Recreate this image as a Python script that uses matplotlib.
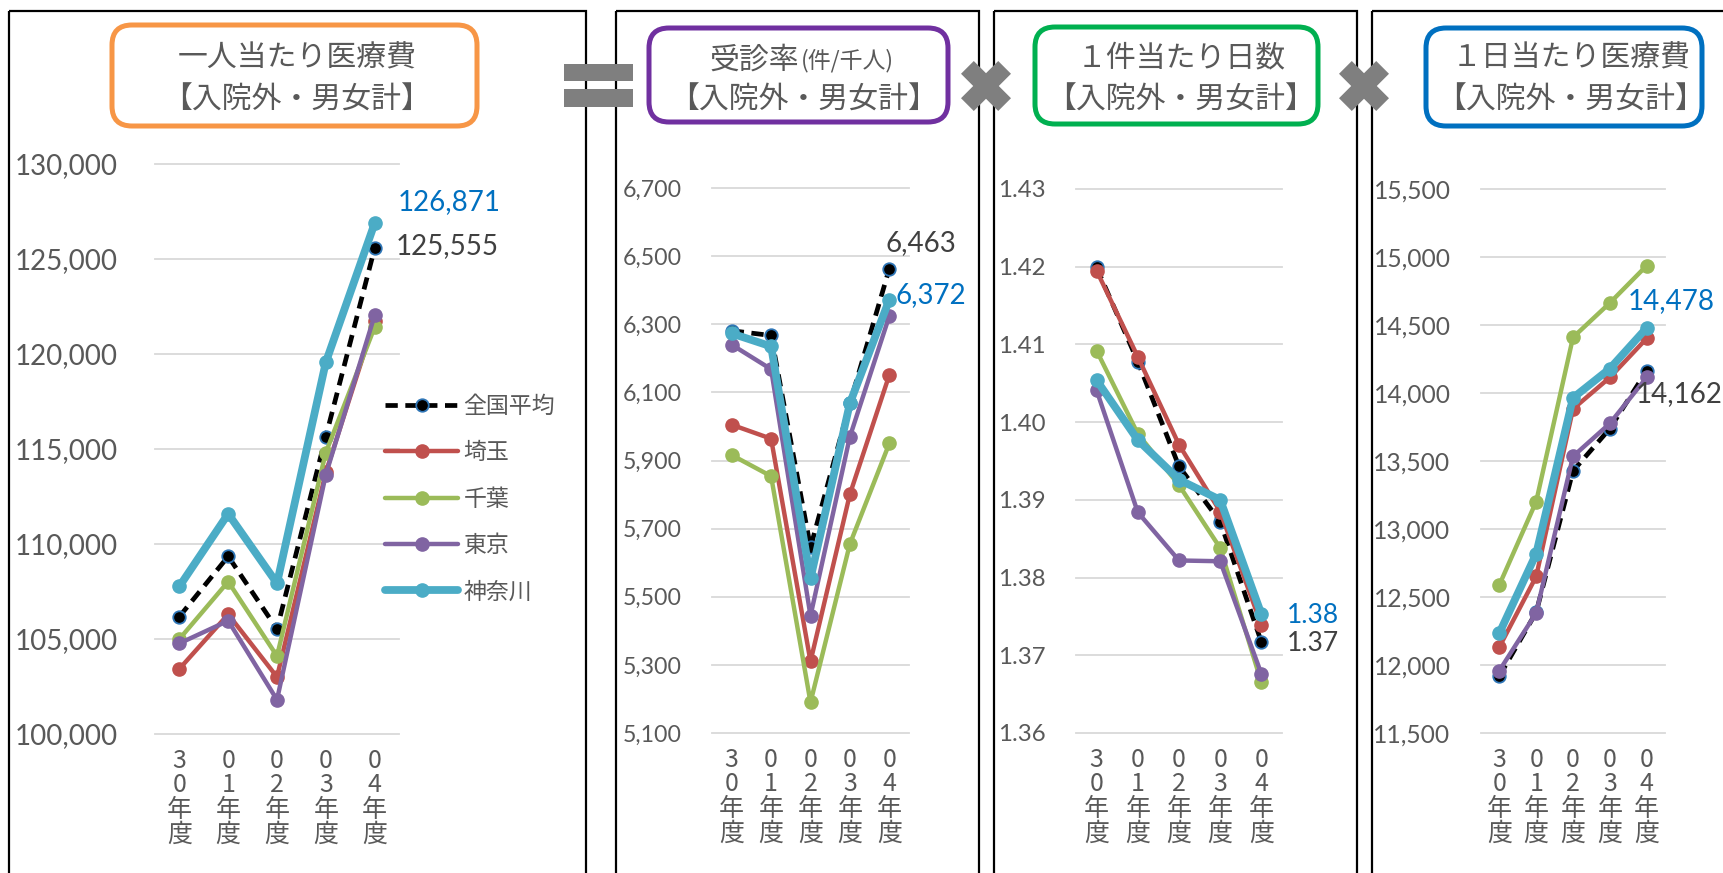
import matplotlib
matplotlib.use("Agg")
import matplotlib.pyplot as plt
from matplotlib.patches import Rectangle, FancyBboxPatch
from matplotlib.lines import Line2D
from matplotlib.ticker import FuncFormatter

# ---------------- data ----------------
fiscal_years = ["30年度", "01年度", "02年度", "03年度", "04年度"]
prefectures = ["全国平均", "埼玉", "千葉", "東京", "神奈川"]

# 一人当たり医療費（円）  rows follow `prefectures`
cost_per_person = [
    [106180, 109350, 105525, 115650, 125555],
    [103430, 106300, 103000, 113770, 121750],
    [105000, 108020, 104100, 114810, 121410],
    [104770, 105960, 101800, 113650, 122030],
    [107770, 111590, 107930, 119560, 126871],
]
# 受診率（件/千人）
visit_rate = [
    [6281, 6267, 5645, 6068, 6463],
    [6005, 5964, 5310, 5801, 6151],
    [5916, 5854, 5190, 5655, 5950],
    [6240, 6168, 5444, 5970, 6324],
    [6273, 6235, 5554, 6068, 6372],
]
# 1件当たり日数
days_per_case = [
    [1.4199, 1.4078, 1.3943, 1.3872, 1.3717],
    [1.4195, 1.4084, 1.3971, 1.3885, 1.3739],
    [1.4092, 1.3985, 1.3919, 1.3838, 1.3665],
    [1.4041, 1.3884, 1.3822, 1.3821, 1.3676],
    [1.4054, 1.3977, 1.3926, 1.3900, 1.3753],
]
# 1日当たり医療費（円）
cost_per_day = [
    [11919, 12388, 13427, 13738, 14162],
    [12133, 12651, 13883, 14114, 14401],
    [12590, 13202, 14409, 14662, 14936],
    [11959, 12383, 13534, 13776, 14114],
    [12235, 12818, 13964, 14179, 14478],
]

ticks_per_person = [100000, 105000, 110000, 115000, 120000, 125000, 130000]
ticks_rate = [5100, 5300, 5500, 5700, 5900, 6100, 6300, 6500, 6700]
ticks_days = [1.36, 1.37, 1.38, 1.39, 1.40, 1.41, 1.42, 1.43]
ticks_per_day = [11500, 12000, 12500, 13000, 13500, 14000, 14500, 15000, 15500]

panel_titles = ["一人当たり医療費", "受診率", "１件当たり日数", "１日当たり医療費"]
title_sub = "【入院外・男女計】"
rate_unit = "(件/千人)"

# ---------------- style ----------------
W, H, DPI = 1723, 873, 100
plt.rcParams["font.family"] = ["Lato", "Noto Sans CJK JP", "DejaVu Sans"]
JP = ["Noto Sans CJK JP", "DejaVu Sans"]
TXT = "#595959"
line_colors = ["#000000", "#C0504D", "#9BBB59", "#8064A2", "#4BACC6"]
line_widths = [3.4, 3.2, 3.2, 3.2, 5.6]

fig = plt.figure(figsize=(W / DPI, H / DPI), dpi=DPI)
fig.patch.set_facecolor("white")

# overlay in pixel coordinates (y downward)
ov = fig.add_axes([0, 0, 1, 1])
ov.set_xlim(0, W)
ov.set_ylim(H, 0)
ov.axis("off")

# panel frames
for x0, x1 in [(9, 586), (616, 979), (994, 1357), (1372, 1900)]:
    ov.add_patch(Rectangle((x0, 11), x1 - x0, 1000, fill=False,
                           edgecolor="black", lw=1.6))

# title boxes
boxes = [((112, 25, 477, 126), "#F79646", 297),
         ((649, 28, 948, 122), "#7030A0", 804),
         ((1035, 27, 1318, 124), "#00B050", 1181),
         ((1426, 28, 1702, 126), "#0070C0", 1571)]
for i, ((bx0, by0, bx1, by1), ec, cx) in enumerate(boxes):
    ov.add_patch(FancyBboxPatch((bx0, by0), bx1 - bx0, by1 - by0,
                                boxstyle="round,pad=0,rounding_size=20",
                                fill=True, facecolor="white", edgecolor=ec, lw=3.6))
    if i == 1:
        ov.text(799, 60, panel_titles[i], ha="right", va="center",
                fontsize=21.5, color=TXT, family=JP)
        ov.text(801, 61, rate_unit, ha="left", va="center",
                fontsize=16.5, color=TXT, family=JP)
    else:
        ov.text(cx, 58, panel_titles[i], ha="center", va="center",
                fontsize=21.5, color=TXT, family=JP)
    ov.text(cx, 100, title_sub, ha="center", va="center",
            fontsize=21.5, color=TXT, family=JP)

# "=" sign
SIGN = "#7F7F7F"
ov.add_patch(Rectangle((564, 64), 69, 17, color=SIGN, lw=0))
ov.add_patch(Rectangle((564, 89), 69, 18, color=SIGN, lw=0))
# "×" signs
for cx, cy in [(986, 86), (1364, 86)]:
    d = 18.6
    for sx in (1, -1):
        ov.add_line(Line2D([cx - d * sx, cx + d * sx], [cy - d, cy + d],
                           color=SIGN, lw=13, solid_capstyle="butt"))

# ---------------- charts ----------------
panels = [
    dict(data=cost_per_person, ticks=ticks_per_person, rect=(155, 164, 399, 734),
         ytfs=20, ypad=27, fmt=lambda v: f"{v:,.0f}", dfs=20,
         labels=[(4, 23, 21, "#0070C0"), (0, 21, 2, "#404040")]),
    dict(data=visit_rate, ticks=ticks_rate, rect=(712, 188, 909, 733),
         ytfs=16.7, ypad=22, fmt=lambda v: f"{v:,.0f}", dfs=20,
         labels=[(0, -4, 26, "#404040"), (4, 6, 5, "#0070C0")]),
    dict(data=days_per_case, ticks=ticks_days, rect=(1076, 189, 1282, 733),
         ytfs=17.3, ypad=22, fmt=lambda v: f"{v:.2f}", dfs=19,
         labels=[(4, 25, -1, "#0070C0"), (0, 25, -1, "#404040")]),
    dict(data=cost_per_day, ticks=ticks_per_day, rect=(1481, 189, 1665, 733),
         ytfs=17.7, ypad=22, fmt=lambda v: f"{v:,.0f}", dfs=20,
         labels=[(4, -19, 27, "#0070C0"), (0, -11, -23, "#404040")]),
]

xlabels = ["\n".join(s) for s in fiscal_years]
xpos = list(range(len(fiscal_years)))
axes = []
for p in panels:
    l, t, r, b = p["rect"]
    ax = fig.add_axes([l / W, 1 - b / H, (r - l) / W, (b - t) / H])
    ax.set_facecolor("none")
    for s in ax.spines.values():
        s.set_visible(False)
    handles = []
    for k, name in enumerate(prefectures):
        kw = dict(color=line_colors[k], lw=line_widths[k], marker="o",
                  ms=9.5, mfc=line_colors[k], mec=line_colors[k],
                  solid_capstyle="round", label=name, zorder=3 + k)
        if k == 0:
            kw.update(ls=(0, (2.6, 1.6)), mec="#2E75B6", mew=1.3, ms=9,
                      dash_capstyle="butt")
        h, = ax.plot(xpos, p["data"][k], **kw)
        handles.append(h)
    ax.set_xlim(-0.5, len(fiscal_years) - 0.5)
    ax.set_ylim(p["ticks"][0], p["ticks"][-1])
    ax.set_yticks(p["ticks"])
    fmt = p["fmt"]
    ax.yaxis.set_major_formatter(FuncFormatter(lambda v, _, f=fmt: f(v)))
    ax.tick_params(axis="y", length=0, pad=p["ypad"], labelsize=p["ytfs"],
                   labelcolor=TXT)
    ax.set_xticks(xpos)
    ax.set_xticklabels(xlabels, family=JP, fontsize=18, color=TXT,
                       linespacing=0.93, va="top")
    ax.tick_params(axis="x", length=0, pad=10)
    ax.yaxis.grid(True, color="#D9D9D9", lw=1.3)
    for gl in ax.get_ygridlines():
        gl.set_clip_on(False)
    ax.set_axisbelow(True)
    # data labels on last year
    for k, dx, dy, col in p["labels"]:
        v = p["data"][k][-1]
        ax.annotate(fmt(v), xy=(4, v), xytext=(dx, dy), textcoords="offset pixels",
                    ha="left", va="center", fontsize=p["dfs"],
                    color=col, annotation_clip=False, zorder=10)
    axes.append((ax, handles))

ax1, h1 = axes[0]
leg = ax1.legend(h1, prefectures, loc="upper left",
                 bbox_to_anchor=(385 / W, 1 - 395 / H), bbox_transform=fig.transFigure,
                 frameon=False, handlelength=3.2, handletextpad=0.22,
                 labelspacing=1.02, borderpad=0, borderaxespad=0,
                 prop={"family": JP, "size": 16.5})
for txt in leg.get_texts():
    txt.set_color(TXT)

fig.savefig("out.png", dpi=DPI, facecolor="white")
